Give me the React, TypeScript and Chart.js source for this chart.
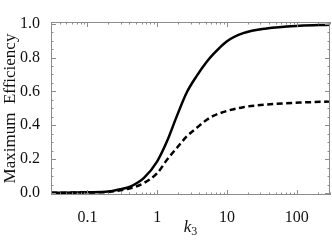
import React, { useEffect, useRef } from "react";
import { Chart, registerables } from "chart.js";

Chart.register(...registerables);

// k3 sample positions
const kValues = [0.03, 0.1, 0.2, 0.3, 0.41, 0.64, 1.0, 1.38, 1.91, 2.66, 3.69, 5.13, 6.37, 9.9, 17.1, 36.9, 110, 300];
// solid curve
const solidValues = [0.001, 0.004, 0.008, 0.022, 0.038, 0.088, 0.187, 0.305, 0.454, 0.595, 0.692, 0.775, 0.82, 0.895, 0.944, 0.972, 0.988, 0.994];
// dashed curve
const dashedValues = [0.001, 0.003, 0.006, 0.016, 0.028, 0.058, 0.117, 0.196, 0.266, 0.335, 0.385, 0.432, 0.455, 0.484, 0.507, 0.522, 0.534, 0.54];

const xMajorTicks = [0.1, 1, 10, 100];
const yMajorTicks = [0, 0.2, 0.4, 0.6, 0.8, 1.0];
const yTitle = "Maximum  Efficiency";
const xTitleMain = "k";
const xTitleSub = "3";

const FONT = "'Liberation Serif', 'DejaVu Serif', serif";

const framePlugin = {
  id: "frameTicks",
  afterDraw(chart: any) {
    const { ctx, chartArea } = chart;
    const { left, right, top, bottom } = chartArea;
    const xs = chart.scales.x;
    const ys = chart.scales.y;
    ctx.save();
    ctx.strokeStyle = "#8c8c8c";
    ctx.lineWidth = 1;
    ctx.strokeRect(left + 0.5, top + 0.5, right - left - 1, bottom - top - 1);
    ctx.beginPath();
    for (let e = -2; e <= 2; e++) {
      for (let m = 1; m <= 9; m++) {
        const v = m * Math.pow(10, e);
        if (v < xs.min || v > xs.max) continue;
        const px = Math.round(xs.getPixelForValue(v)) + 0.5;
        const len = m === 1 ? 5 : 2.5;
        ctx.moveTo(px, bottom);
        ctx.lineTo(px, bottom - len);
        ctx.moveTo(px, top);
        ctx.lineTo(px, top + len);
      }
    }
    for (let i = 0; i <= 20; i++) {
      const v = i * 0.05;
      const py = Math.round(ys.getPixelForValue(v)) + 0.5;
      const len = i % 4 === 0 ? 5 : 2.5;
      ctx.moveTo(left, py);
      ctx.lineTo(left + len, py);
      ctx.moveTo(right, py);
      ctx.lineTo(right - len, py);
    }
    ctx.stroke();

    const cx = (left + right) / 2;
    ctx.fillStyle = "#111";
    ctx.textBaseline = "alphabetic";
    ctx.textAlign = "left";
    ctx.font = `italic 17px ${FONT}`;
    const wk = ctx.measureText(xTitleMain).width;
    ctx.font = `12px ${FONT}`;
    const w3 = ctx.measureText(xTitleSub).width;
    const x0 = cx - (wk + w3) / 2;
    ctx.font = `italic 17px ${FONT}`;
    ctx.fillText(xTitleMain, x0, 232);
    ctx.font = `12px ${FONT}`;
    ctx.fillText(xTitleSub, x0 + wk, 235);
    ctx.restore();
  },
};

export default function App() {
  const ref = useRef<HTMLCanvasElement>(null);
  useEffect(() => {
    if (!ref.current) return;
    const chart = new Chart(ref.current, {
      type: "line",
      data: {
        datasets: [
          {
            label: "solid",
            data: kValues.map((k, i) => ({ x: k, y: solidValues[i] })),
            borderColor: "#000",
            borderWidth: 2.5,
            pointRadius: 0,
            cubicInterpolationMode: "monotone",
            fill: false,
          },
          {
            label: "dashed",
            data: kValues.map((k, i) => ({ x: k, y: dashedValues[i] })),
            borderColor: "#000",
            borderWidth: 2.5,
            borderDash: [6, 3.5],
            pointRadius: 0,
            cubicInterpolationMode: "monotone",
            fill: false,
          },
        ],
      },
      options: {
        animation: false,
        responsive: false,
        maintainAspectRatio: false,
        layout: { padding: { top: 22, right: 2, left: 0, bottom: 0 } },
        plugins: { legend: { display: false }, tooltip: { enabled: false } },
        scales: {
          x: {
            type: "logarithmic",
            min: 0.03,
            max: 300,
            grid: { display: false },
            border: { display: false },
            afterBuildTicks: (s: any) => {
              s.ticks = xMajorTicks.map((v) => ({ value: v }));
            },
            afterFit: (s: any) => {
              s.height = 50;
            },
            ticks: {
              autoSkip: false,
              maxRotation: 0,
              padding: 5,
              color: "#111",
              font: { family: FONT, size: 16 },
              callback: (v: any) => String(v),
            },
          },
          y: {
            type: "linear",
            min: -0.012,
            max: 1.01,
            grid: { display: false },
            border: { display: false },
            afterBuildTicks: (s: any) => {
              s.ticks = yMajorTicks.map((v) => ({ value: v }));
            },
            afterFit: (s: any) => {
              s.width = 51;
            },
            title: {
              display: true,
              text: yTitle,
              color: "#111",
              font: { family: FONT, size: 17 },
              padding: { top: 0, bottom: 0 },
            },
            ticks: {
              padding: 3,
              color: "#111",
              font: { family: FONT, size: 16 },
              callback: (v: any) => Number(v).toFixed(1),
            },
          },
        },
      },
      plugins: [framePlugin],
    });
    return () => chart.destroy();
  }, []);
  return (
    <div style={{ position: "fixed", left: 0, top: 0, width: 332, height: 245, background: "#fff" }}>
      <canvas ref={ref} width={332} height={245} style={{ width: 332, height: 245, display: "block" }} />
    </div>
  );
}
